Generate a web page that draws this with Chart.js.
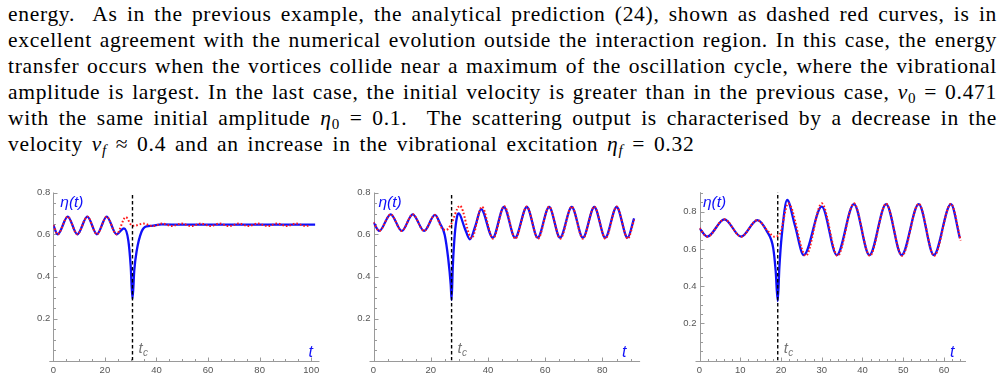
<!DOCTYPE html>
<html><head><meta charset="utf-8">
<script src="https://cdn.jsdelivr.net/npm/chart.js@4.4.1/dist/chart.umd.min.js"></script>
<style>
html,body{margin:0;padding:0;background:#fff;width:1004px;height:379px;overflow:hidden;}
#text{position:absolute;left:8px;top:1px;width:989px;font-family:"Liberation Serif","Times New Roman",serif;font-size:21.5px;letter-spacing:0.7px;line-height:26px;color:#000;}
.l{display:block;text-align:justify;text-align-last:justify;white-space:nowrap;}
.last{display:block;text-align:left;white-space:nowrap;word-spacing:2.8px;}
.s{font-size:70%;vertical-align:-0.25em;line-height:0;}
canvas{position:absolute;}
</style></head>
<body>
<div id="text">
<span class="l">energy.&nbsp; As in the previous example, the analytical prediction (24), shown as dashed red curves, is in</span>
<span class="l">excellent agreement with the numerical evolution outside the interaction region. In this case, the energy</span>
<span class="l">transfer occurs when the vortices collide near a maximum of the oscillation cycle, where the vibrational</span>
<span class="l">amplitude is largest. In the last case, the initial velocity is greater than in the previous case, <i>v</i><span class="s">0</span> = 0.471</span>
<span class="l">with the same initial amplitude <i>η</i><span class="s">0</span> = 0.1.&nbsp; The scattering output is characterised by a decrease in the</span>
<span class="last">velocity <i>v<span class="s">f</span></i> ≈ 0.4 and an increase in the vibrational excitation <i>η<span class="s">f</span></i> = 0.32</span>
</div>
<canvas id="c1" width="335" height="199" style="left:0px;top:180px"></canvas>
<canvas id="c2" width="330" height="199" style="left:330px;top:180px"></canvas>
<canvas id="c3" width="344" height="199" style="left:660px;top:180px"></canvas>
<script>
// ---------- data ----------
// chart 1
const c1BlueT = [0,1.7,5.6,9.3,13.2,16.9,20.7,24.5,27.4,29.1,30.0,30.7,31.4,32.3,34.2,36.1,38,42,50,60,70,80,90,101.5];
const c1BlueV = [0.645,0.601,0.685,0.601,0.685,0.601,0.685,0.601,0.629,0.57,0.45,0.293,0.43,0.52,0.613,0.639,0.641,0.648,0.647,0.647,0.647,0.647,0.647,0.647];
const c1RedT  = [0,1.7,5.6,9.3,13.2,16.9,20.7,24.5,28.1,30.6,32,34.9,38.6,42.3,46,49.7,53.5,57.2,60.9,64.5,68.2,71.9,75.6,79.3,83.1,86.8,90.5,94.2,98,99.5];
const c1RedV  = [0.645,0.601,0.685,0.601,0.685,0.601,0.685,0.601,0.683,0.642,0.643,0.652,0.640,0.652,0.640,0.652,0.640,0.652,0.640,0.652,0.640,0.652,0.640,0.652,0.640,0.652,0.640,0.652,0.640,0.645];
const c1Tc = 30.7;
// chart 2
const c2BlueT = [0,2.0,6.0,9.9,13.7,17.7,21.5,23.2,24.9,26.1,27.0,27.3,27.7,28.4,29.2,29.8,31.9,33.7,35.7,37.6,41.7,45.6,49.5,53.6,57.4,61.4,65.2,69.3,73.2,77.2,81.0,85.0,88.8,91.1];
const c2BlueV = [0.658,0.617,0.696,0.617,0.696,0.617,0.693,0.654,0.598,0.487,0.36,0.288,0.44,0.598,0.685,0.70,0.63,0.577,0.645,0.721,0.585,0.731,0.585,0.731,0.585,0.731,0.585,0.731,0.585,0.731,0.585,0.731,0.585,0.677];
const c2RedT  = [0,2.0,6.0,9.9,13.7,17.7,21.5,23.8,25.3,27.0,30.2,34.3,37.9,41.8,45.7,49.6,53.6,57.5,61.4,65.3,69.3,73.2,77.2,81.1,85.0,88.9,91.1];
const c2RedV  = [0.658,0.617,0.696,0.617,0.696,0.617,0.693,0.632,0.621,0.645,0.737,0.582,0.732,0.58,0.735,0.58,0.733,0.58,0.733,0.58,0.733,0.58,0.733,0.58,0.733,0.58,0.67];
const c2Tc = 27.3;
// chart 3
const c3BlueT = [0,1.9,6.1,10.2,14.2,16.6,18.1,18.7,19.2,19.6,20.2,21.5,23.4,25.6,30.0,33.7,37.9,41.7,45.8,49.6,53.8,57.5,61.7,63.9];
const c3BlueV = [0.711,0.666,0.759,0.666,0.755,0.692,0.603,0.48,0.32,0.50,0.675,0.863,0.728,0.567,0.827,0.567,0.841,0.567,0.841,0.567,0.841,0.567,0.841,0.657];
const c3RedT  = [0,1.9,6.1,10.2,14.2,16.6,18.4,19.7,21.8,26.1,30.0,33.9,37.9,41.8,45.8,49.7,53.8,57.6,61.7,64.1];
const c3RedV  = [0.711,0.666,0.759,0.666,0.755,0.70,0.666,0.68,0.845,0.563,0.845,0.563,0.845,0.563,0.843,0.563,0.843,0.563,0.843,0.645];
const c3Tc = 19.2;
// tick labels
const c1XTicks = [0,20,40,60,80,100];
const c2XTicks = [0,20,40,60,80];
const c3XTicks = [0,10,20,30,40,50,60];
const yTicks12 = [0.2,0.4,0.6,0.8];
const yTicks3  = [0.2,0.4,0.6,0.8];
const yTickLabels = ['0.2','0.4','0.6','0.8'];

// ---------- drawing ----------
const BLUE = '#1010f8', RED = '#ff1a1a', AXIS = '#9a9a9a', TICKTXT = '#555';

function pts(ts, vs){ return ts.map((t,i)=>({x:t,y:vs[i]})); }

const mmaAxes = {
  id:'mmaAxes',
  beforeDatasetsDraw(chart, args, o){
    const {ctx, chartArea:a, scales:{x,y}} = chart;
    ctx.save();
    ctx.strokeStyle = AXIS; ctx.lineWidth = 1;
    const X0 = Math.round(x.getPixelForValue(0))+0.5;
    const Y0 = Math.round(y.getPixelForValue(0))+0.5;
    ctx.beginPath();
    ctx.moveTo(a.left-4, Y0); ctx.lineTo(a.right, Y0);
    ctx.moveTo(X0, Y0); ctx.lineTo(X0, a.top);
    const nx = Math.floor(x.max/o.xMinor+1e-9);
    for(let i=1;i<=nx;i++){
      const v=i*o.xMinor, r=v/o.xMajor, major=Math.abs(r-Math.round(r))<1e-6;
      const p=Math.round(x.getPixelForValue(v))+0.5;
      ctx.moveTo(p,Y0); ctx.lineTo(p,Y0-(major?4:2.5));
    }
    const ny = Math.floor(y.max/o.yMinor+1e-9);
    for(let i=1;i<=ny;i++){
      const v=i*o.yMinor, r=v/o.yMajor, major=Math.abs(r-Math.round(r))<1e-6;
      const p=Math.round(y.getPixelForValue(v))+0.5;
      ctx.moveTo(X0,p); ctx.lineTo(X0+(major?4:2.5),p);
    }
    ctx.stroke();
    ctx.restore();
  },
  afterDraw(chart, args, o){
    const {ctx, chartArea:a, scales:{x,y}} = chart;
    const B = a.bottom;
    ctx.save();
    ctx.textBaseline='alphabetic'; ctx.textAlign='left';
    ctx.fillStyle = BLUE;
    ctx.font = 'italic 15.5px "Liberation Sans", Arial, sans-serif';
    ctx.fillText('η(t)', a.left + o.etaDx, a.top + 14.5);
    ctx.font = 'italic 16px "Liberation Sans", Arial, sans-serif';
    ctx.fillText('t', x.getPixelForValue(x.max) + o.tDx, B - 3.5);
    const px = x.getPixelForValue(o.tc);
    ctx.fillStyle = '#777';
    ctx.font = 'italic 15px "Liberation Sans", Arial, sans-serif';
    ctx.fillText('t', px+6, B - 7.5);
    ctx.font = 'italic 10px "Liberation Sans", Arial, sans-serif';
    ctx.fillText('c', px+10.5, B - 4.5);
    ctx.restore();
  }
};

function makeChart(id, o){
  const ds = [
    {data:[{x:o.tc,y:0},{x:o.tc,y:o.ymax}], borderColor:'#000', borderWidth:1.4, borderDash:[3.5,2.5], pointRadius:0, tension:0},
    {data:pts(o.rt,o.rv), borderColor:RED, borderWidth:2, borderDash:[1.6,2], pointRadius:0, cubicInterpolationMode:'monotone'},
    {data:pts(o.bt,o.bv), borderColor:BLUE, borderWidth:2.3, pointRadius:0, cubicInterpolationMode:'monotone'}
  ];
  new Chart(document.getElementById(id), {
    type:'line',
    data:{datasets:ds},
    options:{
      responsive:false, animation:false, events:[],
      layout:{padding:{left:0, top:o.padTop, right:o.padRight, bottom:0}},
      plugins:{legend:{display:false}, tooltip:{enabled:false}, mmaAxes:o.axes},
      scales:{
        x:{type:'linear', min:0, max:o.xmax,
           grid:{display:false, drawTicks:false}, border:{display:false},
           afterBuildTicks:s=>{ s.ticks = o.xticks.map(v=>({value:v})); },
           afterFit:s=>{ s.height = o.xh; },
           ticks:{autoSkip:false, maxRotation:0, padding:4, color:TICKTXT, font:{family:'"Liberation Sans", Arial, sans-serif', size:9.5}, callback:v=>String(v)}},
        y:{type:'linear', min:0, max:o.ymax,
           grid:{display:false, drawTicks:false}, border:{display:false},
           afterBuildTicks:s=>{ s.ticks = o.yticks.map(v=>({value:v})); },
           afterFit:s=>{ s.width = o.yw; },
           ticks:{autoSkip:false, padding:3, color:TICKTXT, font:{family:'"Liberation Sans", Arial, sans-serif', size:9.5},
                  callback:(v)=>{ const i=o.yticks.indexOf(v); return i>=0?yTickLabels[i]:''; }}}
      }
    },
    plugins:[mmaAxes]
  });
}

makeChart('c1', {bt:c1BlueT,bv:c1BlueV,rt:c1RedT,rv:c1RedV,tc:c1Tc,xmax:103.2,ymax:0.8,
  xticks:c1XTicks,yticks:yTicks12,padTop:12.5,padRight:15.5,yw:53.3,xh:18.5,
  axes:{xMinor:5,xMajor:20,yMinor:0.05,yMajor:0.2,etaDx:7,tDx:-11,tc:c1Tc}});
makeChart('c2', {bt:c2BlueT,bv:c2BlueV,rt:c2RedT,rv:c2RedV,tc:c2Tc,xmax:93.2,ymax:0.8,
  xticks:c2XTicks,yticks:yTicks12,padTop:12.5,padRight:19.9,yw:43.5,xh:18.5,
  axes:{xMinor:5,xMajor:20,yMinor:0.05,yMajor:0.2,etaDx:5,tDx:-18,tc:c2Tc}});
makeChart('c3', {bt:c3BlueT,bv:c3BlueV,rt:c3RedT,rv:c3RedV,tc:c3Tc,xmax:65.4,ymax:0.905,
  xticks:c3XTicks,yticks:yTicks3,padTop:12.2,padRight:38,yw:39.5,xh:18.5,
  axes:{xMinor:2,xMajor:10,yMinor:0.05,yMajor:0.2,etaDx:3.5,tDx:-16,tc:c3Tc}});
</script>
</body></html>
